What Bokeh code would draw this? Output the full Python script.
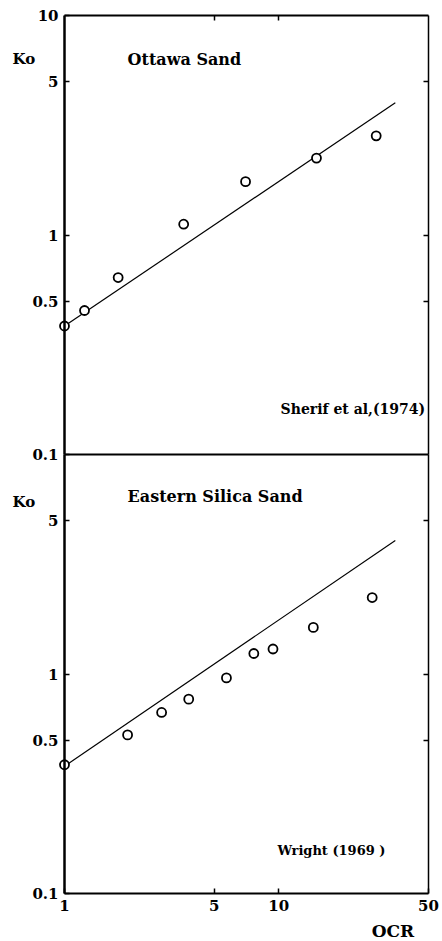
import math

from bokeh.plotting import figure
from bokeh.models import (Range1d, LogScale, LogAxis, FixedTicker,
                          CustomJSTickFormatter, Label)
from bokeh.embed import file_html
from bokeh.resources import INLINE

# Ottawa Sand, Sherif et al. (1974)
ottawa_ocr = [1.0, 1.24, 1.78, 3.6, 7.0, 15.0, 28.5]
ottawa_k0 = [0.385, 0.453, 0.64, 1.12, 1.75, 2.24, 2.83]
ottawa_fit_ocr = [1.0, 35.0]
ottawa_fit_k0 = [0.385, 4.0]

# Eastern Silica Sand, Wright (1969)
silica_ocr = [1.0, 1.97, 2.84, 3.8, 5.7, 7.65, 9.4, 14.5, 27.3]
silica_k0 = [0.386, 0.528, 0.668, 0.768, 0.96, 1.24, 1.30, 1.63, 2.23]
silica_fit_ocr = [1.0, 35.0]
silica_fit_k0 = [0.38, 4.06]

x_ticks = [1, 5, 10, 50]
upper_y_ticks = [0.1, 0.5, 1, 5, 10]
lower_y_ticks = [0.1, 0.5, 1, 5]
inner_y_ticks = [0.5, 1, 5]
top_x_ticks = [5, 10]

X_LIMITS = (1, 50)
Y_LIMITS = (0.1, 10)

# page geometry in pixels: the plotting frame fills the whole page and the
# axes are drawn at fixed locations inside it
W, H = 442, 941
LEFT, RIGHT = 64, 428          # x = 1 and x = 50
TOP, MID, BOTTOM = 15, 454, 893  # upper 10, upper 0.1 / lower 10, lower 0.1


def log_range(lo, hi, px_lo, px_hi, px_total):
    """Log range whose lo/hi values sit px_lo/px_hi pixels from the start."""
    per_px = (math.log10(hi) - math.log10(lo)) / (px_hi - px_lo)
    start = 10 ** (math.log10(lo) - px_lo * per_px)
    end = 10 ** (math.log10(hi) + (px_total - px_hi) * per_px)
    return Range1d(start, end)


x_range = log_range(*X_LIMITS, LEFT, RIGHT, W)
upper_range = log_range(*Y_LIMITS, H - MID, H - TOP, H)
lower_range = log_range(*Y_LIMITS, H - BOTTOM, H - MID, H)

FONT = "DejaVu Serif"
fmt = CustomJSTickFormatter(code="return tick.toString()")

p = figure(width=W, height=H, x_axis_type="log", y_axis_type="log",
           x_range=x_range, y_range=upper_range,
           x_axis_location=None, y_axis_location=None,
           output_backend="svg", toolbar_location=None, min_border=0)
p.extra_y_ranges = {"lower": lower_range}
p.extra_y_scales = {"lower": LogScale()}
p.grid.visible = False
p.outline_line_color = None
p.background_fill_color = "white"
p.border_fill_color = "white"


def add_axis(side, ticks, loc, bounds, labels=False, line_width=2,
             y_range_name="default"):
    ax = LogAxis(ticker=FixedTicker(ticks=ticks, minor_ticks=[]),
                 formatter=fmt, fixed_location=loc, bounds=bounds,
                 y_range_name=y_range_name)
    ax.major_tick_in = 5
    ax.major_tick_out = 0
    ax.major_tick_line_width = 1.5
    ax.minor_tick_line_color = None
    ax.axis_line_width = line_width
    ax.axis_line_color = "black"
    ax.major_label_text_font = FONT
    ax.major_label_text_font_style = "bold"
    ax.major_label_text_font_size = "15px"
    ax.major_label_text_color = "black" if labels else None
    ax.major_label_standoff = 6
    p.add_layout(ax, side)
    return ax


# upper panel frame: left (labelled), right, top, and the dividing line
add_axis("left", upper_y_ticks, X_LIMITS[0], Y_LIMITS, labels=True, line_width=2.5)
add_axis("right", inner_y_ticks, X_LIMITS[1], Y_LIMITS, line_width=1.5)
add_axis("above", top_x_ticks, Y_LIMITS[1], X_LIMITS)
add_axis("below", [], Y_LIMITS[0], X_LIMITS)

# lower panel frame: left (labelled), right, and the OCR axis
add_axis("left", lower_y_ticks, X_LIMITS[0], Y_LIMITS, labels=True,
         line_width=2.5, y_range_name="lower")
add_axis("right", inner_y_ticks, X_LIMITS[1], Y_LIMITS, line_width=1.5,
         y_range_name="lower")
add_axis("below", x_ticks, Y_LIMITS[0], X_LIMITS, labels=True,
         y_range_name="lower")

# fitted lines under the white-filled data circles
p.line(ottawa_fit_ocr, ottawa_fit_k0, line_color="black", line_width=1.2)
p.scatter(ottawa_ocr, ottawa_k0, marker="circle", size=9,
          fill_color="white", line_color="black", line_width=1.8)
p.line(silica_fit_ocr, silica_fit_k0, line_color="black", line_width=1.2,
       y_range_name="lower")
p.scatter(silica_ocr, silica_k0, marker="circle", size=9,
          fill_color="white", line_color="black", line_width=1.8,
          y_range_name="lower")


def label(x, y, text, size, align="left", y_range_name="default", x_offset=0):
    p.add_layout(Label(x=x, y=y, text=text, x_offset=x_offset,
                       y_range_name=y_range_name,
                       text_font=FONT, text_font_style="bold",
                       text_font_size=size, text_align=align,
                       text_baseline="middle", text_color="black"))


label(1.97, 6.3, "Ottawa Sand", "16px")
label(1.97, 6.44, "Eastern Silica Sand", "16px", y_range_name="lower")
label(10.2, 0.162, "Sherif et al,(1974)", "14px")
label(9.87, 0.157, "Wright (1969 )", "13px", y_range_name="lower")
label(1, 6.34, "Ko", "15px", x_offset=-52)
label(1, 6.08, "Ko", "15px", x_offset=-52, y_range_name="lower")
label(34.1, 0.0678, "OCR", "17px", align="center", y_range_name="lower")

open("out.html", "w").write(file_html(p, INLINE))
